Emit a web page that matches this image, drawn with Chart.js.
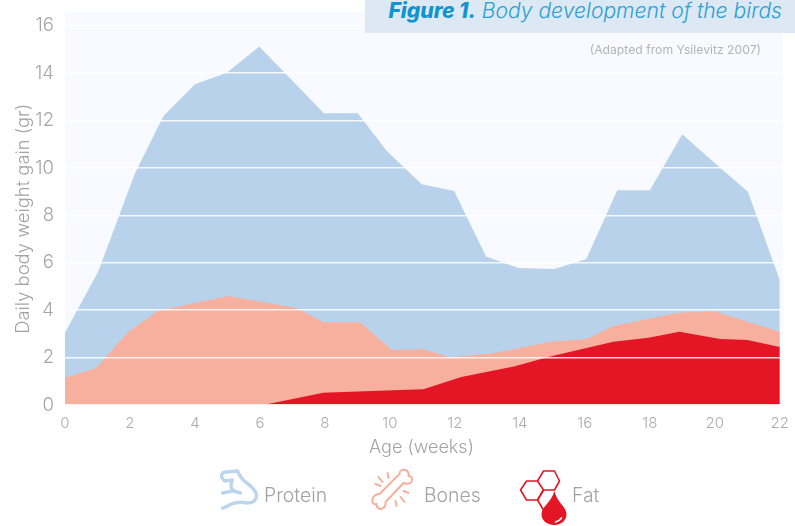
<!DOCTYPE html>
<html>
<head>
<meta charset="utf-8">
<title>Body development of the birds</title>
<script src="https://cdn.jsdelivr.net/npm/chart.js@4"></script>
<style>
html, body { margin: 0; padding: 0; background: #fff; }
#wrap { position: relative; width: 795px; height: 526px; overflow: hidden; font-family: Inter, "Open Sans", sans-serif; }
#pesos { position: absolute; left: 0; top: 0; }
#banner { position: absolute; left: 365px; top: 0; width: 430px; height: 33px; background: #dce8f4; }
#title { position: absolute; right: 13px; top: -3px; margin: 0; white-space: nowrap; font-size: 21.1px; line-height: 28px; font-style: italic; font-weight: 300; color: #2a9fd6; }
#title b { font-weight: 800; color: #0f94d0; }
#note { position: absolute; right: 34px; top: 43px; font-size: 12.2px; line-height: 14px; color: #b4b4b4; }
.leg { position: absolute; top: 484px; font-size: 19.4px; line-height: 22px; font-weight: 300; color: #a3a3a3; }
#icons { position: absolute; left: 0; top: 460px; }
</style>
</head>
<body>
<div id="wrap">
    <canvas id="pesos" width="795" height="526"></canvas>
    <div id="banner"><h1 id="title"></h1></div>
    <div id="note"></div>
    <svg id="icons" width="795" height="66" viewBox="200 460 400 66" fill="none">
        <!-- arm -->
        <g stroke="#bcd5ee" stroke-width="3.4" stroke-linecap="round" stroke-linejoin="round">
            <path d="M224 476 Q224 472 229 472 L240 471 Q243 478 248 482 Q258 489 259 495 Q259 503 250 503 Q241 501 234 504 Q229 507 225 508"/>
            <path d="M224 477 L227 481 L235 480 Q232 485 235 490 Q238 492 243 493"/>
            <path d="M235 491 L225 493"/>
        </g>
        <!-- bone -->
        <g stroke="#f6b09d" stroke-width="2" stroke-linecap="round" stroke-linejoin="round">
            <path d="M382 494 L402 474 Q402 469 408 470 Q412 472 411 476 Q416 476 414 482 Q411 485 406 483 L388 502 Q389 507 384 509 Q379 509 379 504 Q374 505 375 499 Q377 494 382 494 Z"/>
            <path d="M378 484 L383 486 M381 477 L385 482 M390 473 L391 478 M411 493 L406 491 M407 502 L403 497 M399 506 L398 501"/>
        </g>
        <!-- fat -->
        <g stroke="#e41525" stroke-width="1.6" stroke-linejoin="round">
            <path d="M523 490 L529 481 L540 481 L546 490 L540 500 L529 500 Z"/>
            <path d="M540 481 L546 471 L557 471 L562 481 L557 490 L546 490"/>
            <path d="M546 490 L540 500 L546 510"/>
        </g>
        <path d="M557 491 C559 502 569 507 569 514 C569 521 563 525 557 525 C550 525 544 521 544 514 C544 507 554 502 557 491 Z" fill="#e41525"/>
        <path d="M558 522 Q562 521 564 518" stroke="#fff" stroke-width="1.6" stroke-linecap="round"/>
    </svg>
</div>
<script>
//LABELS
const titleBold   = 'Figure 1.';
const titleText   = ' Body development of the birds';
const noteText    = '(Adapted from Ysilevitz 2007)';
const xAxisTitle  = 'Age (weeks)';
const yAxisTitle  = 'Daily body weight gain (gr)';
const seriesNames = ['Protein', 'Bones', 'Fat'];
const seriesColors = ['#b9d2eb', '#f6b09d', '#e41525'];
const legendLefts = [264, 424, 572];

//DATA
const proteinWeeks = [0, 1.02, 2.15, 3.03, 4, 4.98, 5.98, 7.97, 9.01, 9.9, 10.98, 11.98, 12.96, 13.96, 15.05, 16.04, 17, 18, 19, 20.17, 21.02, 22];
const proteinGain  = [3.05, 5.62, 9.77, 12.19, 13.53, 14.02, 15.12, 12.31, 12.31, 10.73, 9.31, 9.03, 6.26, 5.78, 5.74, 6.15, 9.06, 9.06, 11.42, 10, 9, 5.27];

const bonesWeeks = [0, 0.95, 1.95, 2.87, 5.03, 7.13, 7.95, 9.08, 10.06, 11.03, 11.85, 13.24, 14.93, 16.06, 16.88, 18.88, 20, 22];
const bonesGain  = [1.15, 1.55, 3.09, 3.98, 4.6, 4.09, 3.49, 3.49, 2.32, 2.35, 2.01, 2.19, 2.67, 2.78, 3.33, 3.89, 3.94, 3.09];

const fatWeeks = [6.1, 7.95, 10.3, 11.03, 12.2, 13.85, 14.93, 16.88, 17.96, 18.91, 20.17, 21, 22];
const fatGain  = [0, 0.52, 0.63, 0.66, 1.18, 1.63, 2.05, 2.67, 2.84, 3.09, 2.78, 2.74, 2.45];

const xTicks = [0, 2, 4, 6, 8, 10, 12, 14, 16, 18, 20, 22];
const yTicks = [0, 2, 4, 6, 8, 10, 12, 14, 16];

//HTML TEXT
document.querySelector('#title').innerHTML = `<b>${titleBold}</b>${titleText}`;
document.querySelector('#note').textContent = noteText;
seriesNames.forEach((name, i) => {
    const span = document.createElement('span');
    span.className = 'leg';
    span.style.left = legendLefts[i] + 'px';
    span.textContent = name;
    document.querySelector('#wrap').appendChild(span);
});

function toPoints(xs, ys){
    return xs.map((x, i) => ({x: x, y: ys[i]}));
}

function areaDataset(i, xs, ys){
    return {
        label: seriesNames[i],
        data: toPoints(xs, ys),
        backgroundColor: seriesColors[i],
        borderWidth: 0,
        pointRadius: 0,
        tension: 0,
        fill: 'origin',
        order: 3 - i,
    };
}

//plot background
const panelBackground = {
    id: 'panelBackground',
    beforeDraw(chart){
        const a = chart.chartArea;
        chart.ctx.save();
        chart.ctx.fillStyle = '#f8faff';
        chart.ctx.fillRect(a.left, a.top, a.right - a.left, a.bottom - a.top);
        chart.ctx.restore();
    }
};

//labels must not push the plot area around
function noLabelPadding(s){
    s.paddingTop = 0;
    s.paddingBottom = 0;
    s.paddingLeft = 0;
    s.paddingRight = 0;
}

//axis titles are always centred on the scale, trailing spaces nudge them off centre
const nudge = n => '\u00a0'.repeat(n);

new Chart(document.querySelector('#pesos'), {
    type: 'line',
    plugins: [panelBackground],
    data: {
        datasets: [
            areaDataset(0, proteinWeeks, proteinGain),
            areaDataset(1, bonesWeeks, bonesGain),
            areaDataset(2, fatWeeks, fatGain),
        ]
    },
    options: {
        responsive: false,
        animation: false,
        layout: { padding: { top: 12, right: 12, left: 8, bottom: 68 } },
        plugins: { legend: { display: false }, tooltip: { enabled: false } },
        scales: {
            x: {
                type: 'linear',
                min: 0,
                max: 22.1,
                afterFit: s => { s.height = 53; noLabelPadding(s); },
                afterBuildTicks: s => { s.ticks = xTicks.map(v => ({value: v})); },
                grid: { display: false, drawTicks: false },
                border: { display: false },
                ticks: { color: '#ababab', font: { family: 'Inter', size: 15, weight: 300 }, padding: 9, maxRotation: 0, autoSkip: false },
                title: { display: true, text: xAxisTitle + nudge(1), color: '#a3a3a3', font: { family: 'Inter', size: 18, weight: 300 }, padding: { top: 8, bottom: 0 } },
            },
            y: {
                min: 0,
                max: 16.58,
                afterFit: s => { s.width = 57; noLabelPadding(s); },
                afterBuildTicks: s => { s.ticks = yTicks.map(v => ({value: v})); },
                grid: { color: 'rgba(255,255,255,0.85)', lineWidth: 1.4, drawTicks: false, z: 1 },
                border: { display: false },
                ticks: { color: '#a6a6a6', font: { family: 'Inter', size: 18.5, weight: 300 }, padding: 11, autoSkip: false },
                title: { display: true, text: yAxisTitle + nudge(4), color: '#a3a3a3', font: { family: 'Inter', size: 18.4, weight: 300 }, padding: { bottom: 4 } },
            },
        },
    },
});
</script>
</body>
</html>
